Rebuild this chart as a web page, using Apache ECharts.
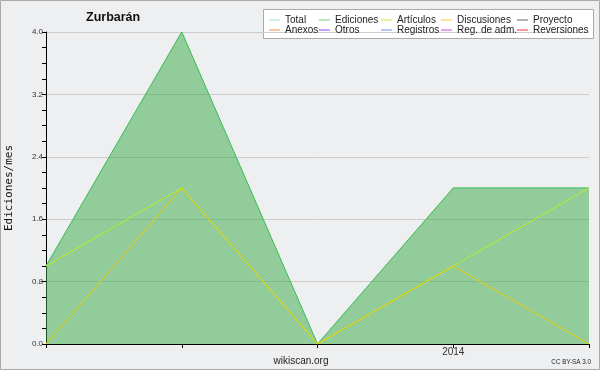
<!DOCTYPE html>
<html><head><meta charset="utf-8">
<script src="https://cdn.jsdelivr.net/npm/echarts@6/dist/echarts.min.js"></script>
<style>html,body{margin:0;padding:0;background:#eeeff1}#c{width:600px;height:370px}</style>
</head><body><div id="c"></div>
<script>
const categories = ["2013-10","2013-11","2013-12","2014-01","2014-02"];
const total      = [1, 4, 0, 2, 2];
const ediciones  = [1, 4, 0, 2, 2];
const articulos  = [1, 2, 0, 1, 2];
const discusiones= [0, 2, 0, 1, 0];
const yTicks = [0, 0.8, 1.6, 2.4, 3.2, 4.0];
const legendCols = [["Total","Anexos"],["Ediciones","Otros"],["Artículos","Registros"],["Discusiones","Reg. de adm."],["Proyecto","Reversiones"]];
const colors = {"Total":"#88dddd","Ediciones":"#44bb44","Artículos":"#bbee22","Discusiones":"#eecc00","Proyecto":"#555555","Anexos":"#ff8844","Otros":"#8833dd","Registros":"#7788ff","Reg. de adm.":"#dd44dd","Reversiones":"#ee3333"};
const legendIconColors = {"Total":"#99dddd","Ediciones":"#77cc77","Artículos":"#bbee33","Discusiones":"#ffcc33","Proyecto":"#666666","Anexos":"#ff8844","Otros":"#8844ee","Registros":"#7788ff","Reg. de adm.":"#dd44ee","Reversiones":"#ee3333"};
const legendColX = [269, 319, 381, 441, 517];

const chart = echarts.init(document.getElementById('c'), null, {renderer:'canvas'});
const font = 'Liberation Sans';
function mk(name, data, extra){
  return Object.assign({name, type:'line', data, symbol:'none', animation:false,
    lineStyle:{width:1, color:colors[name]}, itemStyle:{color:colors[name]}}, extra||{});
}
const series = [
  mk("Total", total),
  mk("Ediciones", ediciones, {areaStyle:{color:'rgb(51,170,68)', opacity:0.5, origin:'start'}}),
  mk("Artículos", articulos),
  mk("Discusiones", discusiones),
  mk("Proyecto", []), mk("Anexos", []), mk("Otros", []), mk("Registros", []), mk("Reg. de adm.", []), mk("Reversiones", [])
];
chart.setOption({
  backgroundColor:'#eeeff1',
  animation:false,
  title:{text:'Zurbarán', left:86, top:11, padding:0,
    textStyle:{fontFamily:font, fontSize:12.5, fontWeight:'bold', color:'#111'}},
  graphic:[
    {type:'rect', shape:{x:0.5,y:0.5,width:599,height:369}, style:{fill:null, stroke:'#aaaaaa', lineWidth:1}, z:-10},
    {type:'rect', shape:{x:263.5,y:9.5,width:330,height:29}, style:{fill:'#ffffff', stroke:'#aaaaaa', lineWidth:1}, z:0},
    {type:'text', x:301, y:361, style:{text:'wikiscan.org', fontFamily:font, fontSize:10, fill:'#222', align:'center', verticalAlign:'middle'}},
    {type:'text', x:591, y:362, style:{text:'CC BY-SA 3.0', fontFamily:font, fontSize:6.3, fill:'#222', align:'right', verticalAlign:'middle'}}
  ],
  legend: legendCols.map((d,i)=>({
    data:d.map(n=>({name:n, icon:'path://M0,0 L11,0 L11,1 L0,1 Z', itemStyle:{color:legendIconColors[n], borderWidth:0}})),
    orient:'vertical', left:legendColX[i], top:15, itemGap:0, itemWidth:11, itemHeight:1,
    selectedMode:false, padding:0, z:5,
    textStyle:{fontFamily:font, fontSize:10, lineHeight:10, color:'#222'}
  })),
  grid:{left:46, right:11, top:32, bottom:26, outerBoundsMode:'none', containLabel:false},
  xAxis:{type:'category', data:categories, boundaryGap:false,
    axisLine:{lineStyle:{color:'#000', width:1}},
    axisTick:{show:true, length:4, lineStyle:{color:'#000'}, alignWithLabel:true, interval:0},
    axisLabel:{interval:0, fontFamily:font, fontSize:10, color:'#333', margin:3,
      formatter:v=>v.endsWith('-01')?v.slice(0,4):''},
    splitLine:{show:false}},
  yAxis:{type:'value', min:yTicks[0], max:yTicks[yTicks.length-1], interval:0.8,
    name:'Ediciones/mes', nameLocation:'middle', nameGap:31,
    nameTextStyle:{fontFamily:'DejaVu Sans Mono', fontSize:11, color:'#111'},
    axisLine:{show:true, lineStyle:{color:'#000'}},
    axisTick:{show:true, length:4, lineStyle:{color:'#000'}},
    minorTick:{show:true, splitNumber:4, length:4, lineStyle:{color:'#000'}},
    axisLabel:{fontFamily:font, fontSize:8, color:'#333', margin:3, formatter:v=>v.toFixed(1)},
    splitLine:{show:true, lineStyle:{color:'#cccccc', width:1}}},
  series
});
</script></body></html>
